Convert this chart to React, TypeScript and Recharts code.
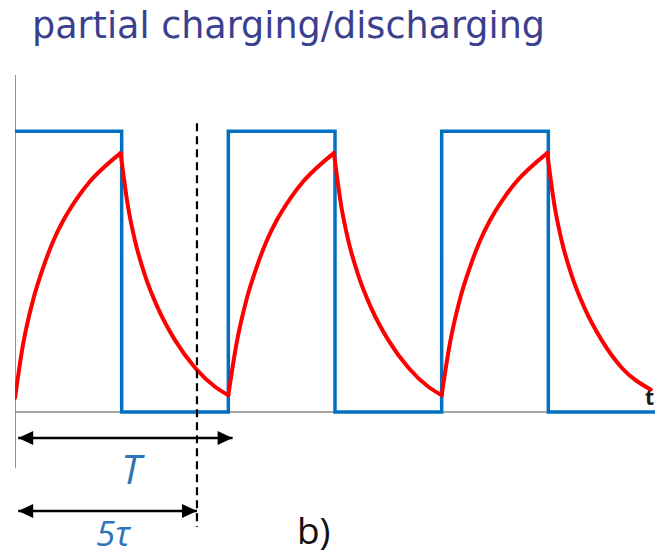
import React from "react";
import { LineChart, Line, XAxis, YAxis, ReferenceDot } from "recharts";

// ---- data ----
const squareTimes = [0, 1, 1, 2, 2, 3, 3, 4, 4, 5, 5, 6];
const squareLevels = [1, 1, 0, 0, 1, 1, 0, 0, 1, 1, 0, 0];

const charge1T = [0, 0.075, 0.17, 0.26, 0.36, 0.45, 0.58, 0.7, 0.83, 0.99];
const charge1V = [0.05, 0.24, 0.4, 0.51, 0.61, 0.68, 0.76, 0.82, 0.87, 0.922];
const discharge1T = [0.99, 1.06, 1.125, 1.22, 1.34, 1.5, 1.69, 1.875, 2.0];
const discharge1V = [0.922, 0.73, 0.61, 0.485, 0.37, 0.256, 0.157, 0.09, 0.06];

const charge2T = [2.0, 2.075, 2.17, 2.26, 2.36, 2.45, 2.58, 2.7, 2.83, 2.99];
const charge2V = [0.06, 0.24, 0.4, 0.51, 0.61, 0.68, 0.76, 0.82, 0.87, 0.922];
const discharge2T = [2.99, 3.06, 3.125, 3.22, 3.34, 3.5, 3.69, 3.875, 4.0];
const discharge2V = [0.922, 0.73, 0.61, 0.485, 0.37, 0.256, 0.157, 0.09, 0.06];

const charge3T = [4.0, 4.075, 4.17, 4.26, 4.36, 4.45, 4.58, 4.7, 4.83, 4.99];
const charge3V = [0.06, 0.24, 0.4, 0.51, 0.61, 0.68, 0.76, 0.82, 0.87, 0.922];
const discharge3T = [4.99, 5.06, 5.125, 5.22, 5.34, 5.5, 5.69, 5.96];
const discharge3V = [0.922, 0.73, 0.61, 0.485, 0.37, 0.256, 0.157, 0.08];

const timeAxisT = [0, 6];
const timeAxisV = [0, 0];
const levelAxisT = [0, 0];
const levelAxisV = [-0.2, 1.2];

const fiveTau = 1.706;
const dashedV = [1.028, -0.409];
const arrowT_Y = -0.0925;
const arrowT_X = [0.03, 2.04];
const arrow5_Y = -0.352;
const arrow5_X = [0.03, fiveTau];

const titleText = "partial charging/discharging";
const labelT = "T";
const label5tau = "5τ";
const labelB = "b)";
const labelTime = "t";

const zip = (ts: number[], vs: number[]) => ts.map((t, i) => ({ t, v: vs[i] }));

const BLUE = "#0070C0";
const RED = "#FF0000";

const arrowHead = (dir: "left" | "right") => (props: any) => {
  const { cx, cy } = props;
  const L = 15;
  const H = 7;
  const bx = dir === "left" ? cx + L : cx - L;
  return (
    <polygon
      points={`${cx},${cy} ${bx},${cy - H} ${bx},${cy + H}`}
      fill="#000"
      stroke="none"
    />
  );
};

const textShape =
  (txt: string, style: any) =>
  (props: any) => {
    const { cx, cy } = props;
    return (
      <text x={cx} y={cy} textAnchor="middle" {...style}>
        {txt}
      </text>
    );
  };

export default function App() {
  const redSegs = [
    zip(charge1T, charge1V),
    zip(discharge1T, discharge1V),
    zip(charge2T, charge2V),
    zip(discharge2T, discharge2V),
    zip(charge3T, charge3V),
    zip(discharge3T, discharge3V),
  ];
  return (
    <div style={{ position: "absolute", left: 0, top: 0, width: 664, height: 556, background: "#fff" }}>
      <svg width={664} height={60} style={{ position: "absolute", left: 0, top: 0 }}>
        <text
          x={32}
          y={38}
          fontFamily="'DejaVu Sans', sans-serif"
          fontSize={38}
          fill="#3A3F8E"
          textLength={513}
          lengthAdjust="spacingAndGlyphs"
        >
          {titleText}
        </text>
      </svg>
      <LineChart
        width={664}
        height={556}
        margin={{ top: 75, right: 9, bottom: 3.5, left: 15 }}
        style={{ position: "absolute", left: 0, top: 0 }}
      >
        <XAxis dataKey="t" type="number" domain={[0, 6]} allowDataOverflow hide />
        <YAxis type="number" domain={[-0.5, 1.2]} allowDataOverflow hide />
        <Line
          data={zip(timeAxisT, timeAxisV)}
          dataKey="v"
          type="linear"
          stroke="#A6A6A6"
          strokeWidth={2}
          dot={false}
          activeDot={false}
          isAnimationActive={false}
        />
        <Line
          data={zip(levelAxisT, levelAxisV)}
          dataKey="v"
          type="linear"
          stroke="#6E6E6E"
          strokeWidth={1.5}
          dot={false}
          activeDot={false}
          isAnimationActive={false}
        />
        <Line
          data={zip(squareTimes, squareLevels)}
          dataKey="v"
          type="linear"
          stroke={BLUE}
          strokeWidth={3.5}
          dot={false}
          activeDot={false}
          isAnimationActive={false}
        />
        {redSegs.map((seg, i) => (
          <Line
            key={i}
            data={seg}
            dataKey="v"
            type="monotone"
            stroke={RED}
            strokeWidth={4}
            strokeLinecap="round"
            dot={false}
            activeDot={false}
            isAnimationActive={false}
          />
        ))}
        <Line
          data={zip([fiveTau, fiveTau], dashedV)}
          dataKey="v"
          type="linear"
          stroke="#000"
          strokeWidth={2.2}
          strokeDasharray="8 5"
          dot={false}
          activeDot={false}
          isAnimationActive={false}
        />
        <Line
          data={zip(arrowT_X, [arrowT_Y, arrowT_Y])}
          dataKey="v"
          type="linear"
          stroke="#000"
          strokeWidth={2.5}
          dot={false}
          activeDot={false}
          isAnimationActive={false}
        />
        <Line
          data={zip(arrow5_X, [arrow5_Y, arrow5_Y])}
          dataKey="v"
          type="linear"
          stroke="#000"
          strokeWidth={2.5}
          dot={false}
          activeDot={false}
          isAnimationActive={false}
        />
        <ReferenceDot x={arrowT_X[0]} y={arrowT_Y} shape={arrowHead("left")} />
        <ReferenceDot x={arrowT_X[1]} y={arrowT_Y} shape={arrowHead("right")} />
        <ReferenceDot x={arrow5_X[0]} y={arrow5_Y} shape={arrowHead("left")} />
        <ReferenceDot x={arrow5_X[1]} y={arrow5_Y} shape={arrowHead("right")} />
        <ReferenceDot
          x={1.09}
          y={-0.256}
          shape={textShape(labelT, {
            fontFamily: "'Open Sans', sans-serif",
            fontStyle: "italic",
            fontSize: 40,
            fill: "#2E75B6",
          })}
        />
        <ReferenceDot
          x={0.92}
          y={-0.478}
          shape={textShape(label5tau, {
            fontFamily: "'Open Sans', sans-serif",
            fontStyle: "italic",
            fontSize: 35,
            fill: "#2E75B6",
          })}
        />
        <ReferenceDot
          x={2.8}
          y={-0.47}
          shape={textShape(labelB, {
            fontFamily: "'Open Sans', sans-serif",
            fontSize: 37,
            fill: "#111",
          })}
        />
        <ReferenceDot
          x={5.95}
          y={0.025}
          shape={textShape(labelTime, {
            fontFamily: "'Open Sans', sans-serif",
            fontWeight: 700,
            fontSize: 21,
            fill: "#1a1a1a",
          })}
        />
      </LineChart>
    </div>
  );
}
